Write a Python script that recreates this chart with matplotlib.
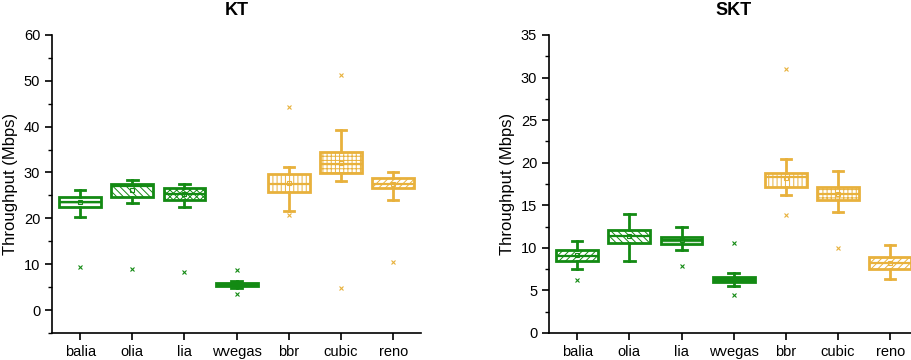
import matplotlib
matplotlib.use('Agg')
import matplotlib.pyplot as plt

plt.rcParams['font.family'] = ['Liberation Sans', 'DejaVu Sans']
plt.rcParams['hatch.linewidth'] = 0.7

GREEN = '#138a13'
GOLD = '#e8b13c'

labels = ['balia', 'olia', 'lia', 'wvegas', 'bbr', 'cubic', 'reno']
colors = [GREEN, GREEN, GREEN, GREEN, GOLD, GOLD, GOLD]

# KT values (Mbps)
kt_q1 = [22.5, 24.7, 24.0, 5.2, 25.8, 29.8, 26.7]
kt_med = [23.6, 27.0, 25.3, 5.6, 27.5, 31.8, 27.6]
kt_q3 = [24.7, 27.6, 26.7, 6.0, 29.6, 34.5, 28.7]
kt_lo = [20.3, 23.3, 22.5, 4.8, 21.6, 28.1, 24.1]
kt_hi = [26.2, 28.4, 27.5, 6.4, 31.2, 39.2, 30.0]
kt_mean = [23.6, 26.2, 25.3, 5.6, 27.7, 32.0, 27.6]
kt_out = [[9.4], [8.9], [8.4], [8.7, 3.6], [44.3, 20.7], [51.3, 4.9], [10.5]]
kt_hatch = ['---', '\\\\\\\\\\', 'xxxxx', '', '||||', '++++', '/////']

# SKT values (Mbps)
skt_q1 = [8.5, 10.6, 10.4, 6.0, 17.1, 15.6, 7.5]
skt_med = [9.0, 11.4, 10.9, 6.3, 18.3, 16.3, 8.2]
skt_q3 = [9.8, 12.1, 11.3, 6.6, 18.8, 17.1, 8.9]
skt_lo = [7.5, 8.4, 9.8, 5.5, 16.2, 14.2, 6.3]
skt_hi = [10.8, 14.0, 12.4, 7.0, 20.4, 19.0, 10.3]
skt_mean = [9.1, 11.4, 10.9, 6.3, 18.2, 16.3, 8.2]
skt_out = [[6.2], [], [7.9], [10.6, 4.5], [31.0, 13.9], [10.0], []]
skt_hatch = ['/////', '\\\\\\\\\\', '---', '', '||||', '++++', '/////']


def draw(ax, q1, med, q3, lo, hi, mean, out, hatches):
    stats = []
    for i in range(len(labels)):
        stats.append(dict(q1=q1[i], med=med[i], q3=q3[i], whislo=lo[i],
                          whishi=hi[i], mean=mean[i], fliers=[]))
    pos = list(range(1, len(labels) + 1))
    bp = ax.bxp(stats, positions=pos, widths=0.8, patch_artist=True,
                showmeans=True, showfliers=False, capwidths=0.2)
    for i, c in enumerate(colors):
        box = bp['boxes'][i]
        box.set_facecolor('white')
        box.set_edgecolor(c)
        box.set_linewidth(2.0)
        box.set_hatch(hatches[i])
        if hatches[i] == '':
            box.set_facecolor(c)
        bp['medians'][i].set(color=c, linewidth=1.6)
        bp['means'][i].set(marker='s', markersize=3, markerfacecolor='none',
                           markeredgecolor=c, markeredgewidth=0.8)
        for w in bp['whiskers'][2 * i:2 * i + 2]:
            w.set(color=c, linewidth=2.0)
        for cp in bp['caps'][2 * i:2 * i + 2]:
            cp.set(color=c, linewidth=2.0)
        if out[i]:
            ax.plot([pos[i]] * len(out[i]), out[i], 'x', color=c,
                    markersize=3, markeredgewidth=0.8)

    ax.set_xticks(pos)
    ax.set_xticklabels(labels, fontsize=10.5)
    ax.set_xlim(0.46, 7.54)
    ax.spines['top'].set_visible(False)
    ax.spines['right'].set_visible(False)
    ax.spines['left'].set_linewidth(1.2)
    ax.spines['bottom'].set_linewidth(1.2)
    ax.tick_params(axis='both', direction='out', length=5, width=1.2,
                   labelsize=10.5, colors='black')
    ax.tick_params(axis='y', which='minor', direction='out', length=3, width=1.0)
    ax.set_ylabel('Throughput (Mbps)', fontsize=12)


fig = plt.figure(figsize=(9.12, 3.6), dpi=100)

ax1 = fig.add_axes([0.057, 0.075, 0.405, 0.828])
draw(ax1, kt_q1, kt_med, kt_q3, kt_lo, kt_hi, kt_mean, kt_out, kt_hatch)
ax1.set_ylim(-5, 60)
ax1.set_yticks(range(0, 61, 10))
ax1.set_yticks(range(-5, 60, 10), minor=True)
ax1.set_title('KT', fontsize=13, fontweight='bold', pad=14)

ax2 = fig.add_axes([0.602, 0.075, 0.405, 0.828])
draw(ax2, skt_q1, skt_med, skt_q3, skt_lo, skt_hi, skt_mean, skt_out, skt_hatch)
ax2.set_ylim(0, 35)
ax2.set_yticks(range(0, 36, 5))
ax2.set_yticks([2.5 + 5 * k for k in range(7)], minor=True)
ax2.set_title('SKT', fontsize=13, fontweight='bold', pad=14)

fig.savefig('out.png', dpi=100)
